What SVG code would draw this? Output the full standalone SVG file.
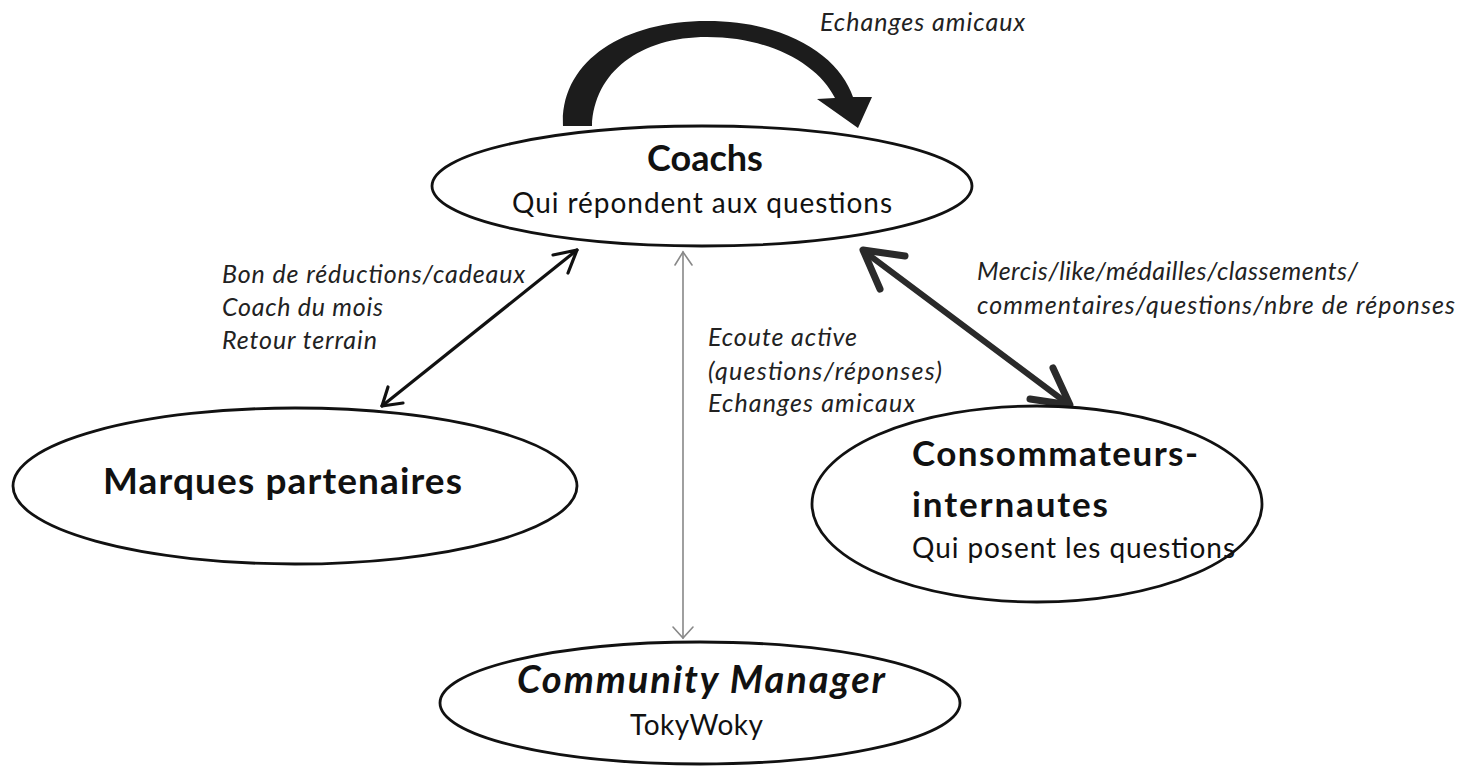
<svg xmlns="http://www.w3.org/2000/svg" width="1465" height="767" viewBox="0 0 1465 767">
<style>
.el{fill:#fff;stroke:#111;stroke-width:2.8}
.t{font-family:Lato,"Open Sans","Liberation Sans",sans-serif;fill:#111}
.b{font-weight:bold}
.i{font-style:italic}
.lbl{font-family:Lato,"Open Sans","Liberation Sans",sans-serif;font-style:italic;font-size:25px;fill:#222}
.thick{stroke:#2a2a2a;stroke-width:6;fill:none;stroke-linecap:round;stroke-linejoin:round}
.mid{stroke:#888;stroke-width:1.6;fill:none;stroke-linecap:round}
.left{stroke:#111;stroke-width:3.2;fill:none;stroke-linecap:round;stroke-linejoin:round}
</style>
<rect width="1465" height="767" fill="#fff"/>

<g id="connectors">
  <path d="M563,126 C560,62 622,21 707,21 C790,21 840,58 853,97 L872,97 L858,128 L817,99 L835,98 C818,64 770,37 707,37 C640,37 594,72 592,126 Z" fill="#1c1c1c"/>
  <g class="left">
    <line x1="577" y1="250" x2="382" y2="406"/>
    <polyline points="553,255 577,250 568,273"/>
    <polyline points="388,387 382,406 403,403"/>
  </g>
  <g class="mid">
    <line x1="683" y1="252" x2="683" y2="638"/>
    <polyline points="675,265 683,252 692,265"/>
    <polyline points="673,627 683,638 693,627"/>
  </g>
  <g class="thick">
    <line x1="865" y1="252" x2="1068" y2="404"/>
    <polyline points="880,289 863,250 905,256" stroke-width="7"/>
    <polyline points="1030,399 1070,405 1053,368" stroke-width="7"/>
  </g>
</g>

<g id="labels">
  <text class="lbl" x="820" y="31" textLength="205">Echanges amicaux</text>
  <text class="lbl" x="222" y="283" textLength="303">Bon de réductions/cadeaux</text>
  <text class="lbl" x="222" y="316" textLength="161">Coach du mois</text>
  <text class="lbl" x="222" y="349" textLength="155">Retour terrain</text>
  <text class="lbl" x="708" y="346" textLength="149">Ecoute active</text>
  <text class="lbl" x="708" y="380" textLength="234">(questions/réponses)</text>
  <text class="lbl" x="708" y="412" textLength="207">Echanges amicaux</text>
  <text class="lbl" x="977" y="280" textLength="381">Mercis/like/médailles/classements/</text>
  <text class="lbl" x="977" y="314" textLength="478">commentaires/questions/nbre de réponses</text>
</g>

<g id="coachs">
  <ellipse class="el" cx="702" cy="186" rx="270" ry="60"/>
  <text class="t b" x="705" y="171" font-size="36" text-anchor="middle">Coachs</text>
  <text class="t" x="512" y="213" font-size="28" textLength="380">Qui répondent aux questions</text>
</g>

<g id="marques">
  <ellipse class="el" cx="295" cy="486" rx="282" ry="78"/>
  <text class="t b" x="103" y="494" font-size="37" textLength="359">Marques partenaires</text>
</g>

<g id="consommateurs">
  <ellipse class="el" cx="1037" cy="504" rx="225" ry="98"/>
  <text class="t b" x="912" y="466" font-size="35" textLength="286">Consommateurs-</text>
  <text class="t b" x="912" y="517" font-size="35" textLength="196">internautes</text>
  <text class="t" x="912" y="558" font-size="28" textLength="323">Qui posent les questions</text>
</g>

<g id="community">
  <ellipse class="el" cx="700" cy="703" rx="260" ry="61"/>
  <text class="t b i" x="517" y="693" font-size="38" textLength="368">Community Manager</text>
  <text class="t" x="630" y="735" font-size="28" textLength="133">TokyWoky</text>
</g>
</svg>
